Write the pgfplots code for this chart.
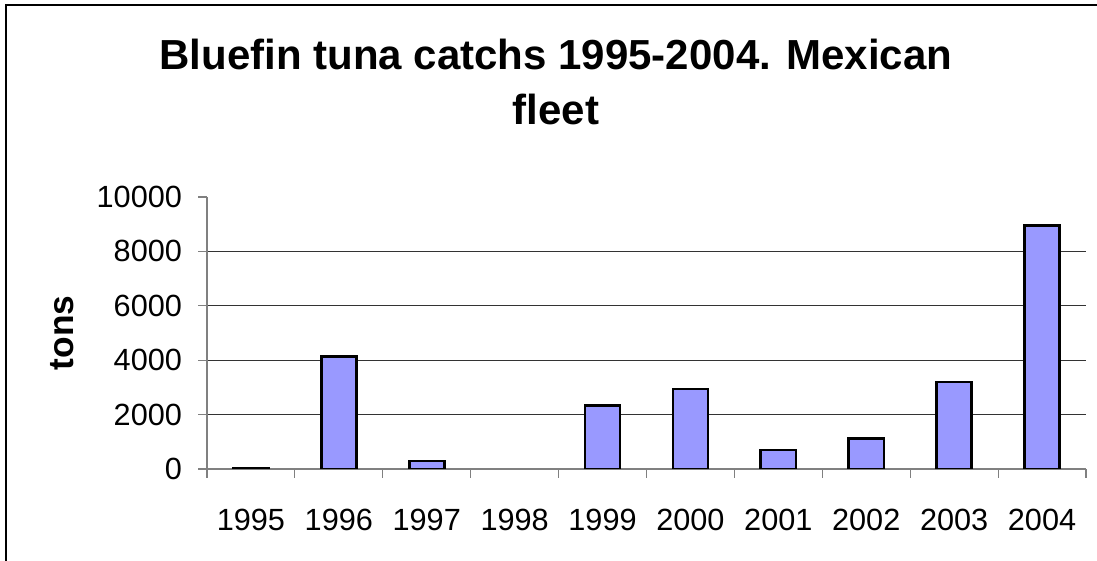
\documentclass[border=0pt]{standalone}
\usepackage{pgfplots}
\pgfplotsset{compat=1.18}
\usepackage{fontspec}
\setmainfont{Liberation Sans}

\definecolor{barblue}{HTML}{9999FF}
\definecolor{axisgray}{HTML}{808080}

\begin{document}
\begin{tikzpicture}
  % picture is 1097x561 px, 1 px = 0.75pt
  \useasboundingbox (0,0) rectangle (822.75pt,420.75pt);
  \draw[line width=0.8pt] (4.5pt,0) -- (4.5pt,417pt) -- (822.75pt,417pt);
  \begin{axis}[
      at={(155.25pt,69pt)}, anchor=south west,
      scale only axis,
      width=659.25pt, height=204pt,
      ybar, bar width=0.4,
      xmin=0.5, xmax=10.5,
      ymin=0, ymax=10000,
      axis lines=left,
      axis line style={-, axisgray, line width=0.8pt},
      xtick={1,...,10},
      xticklabels={1995,1996,1997,1998,1999,2000,2001,2002,2003,2004},
      minor xtick={0.5,1.5,...,10.5},
      major x tick style={draw=none},
      minor tick length=6.75pt,
      major tick length=6.75pt,
      tick align=outside,
      tick style={axisgray, line width=0.8pt},
      ytick={0,2000,4000,6000,8000},
      extra y ticks={10000},
      extra y tick style={grid=none},
      ymajorgrids,
      major grid style={black!80, line width=0.6pt},
      scaled y ticks=false,
      /pgf/number format/1000 sep={},
      /pgf/number format/assume math mode=true,
      tick label style={font=\fontsize{23}{27}\selectfont, black},
      xticklabel style={yshift=-20pt},
      yticklabel style={xshift=-8.5pt},
      ylabel={tons},
      ylabel style={at={(rel axis cs:-0.165,0.5)}, rotate=0, anchor=center,
        font=\fontsize{26.5}{30}\selectfont\bfseries},
      title={Bluefin tuna catchs 1995-2004. Mexican\\fleet},
      title style={at={(rel axis cs:0.397,1.394)}, anchor=center, align=center,
        font=\fontsize{31.5}{41}\selectfont\bfseries},
    ]
    % 1998: no catch reported (no bar drawn)
    \addplot[fill=barblue, draw=black, line width=2pt] coordinates {
      (1,20) (2,4130) (3,300) (5,2330)
      (6,2940) (7,700) (8,1110) (9,3200) (10,8950)
    };
  \end{axis}
\end{tikzpicture}
\end{document}
